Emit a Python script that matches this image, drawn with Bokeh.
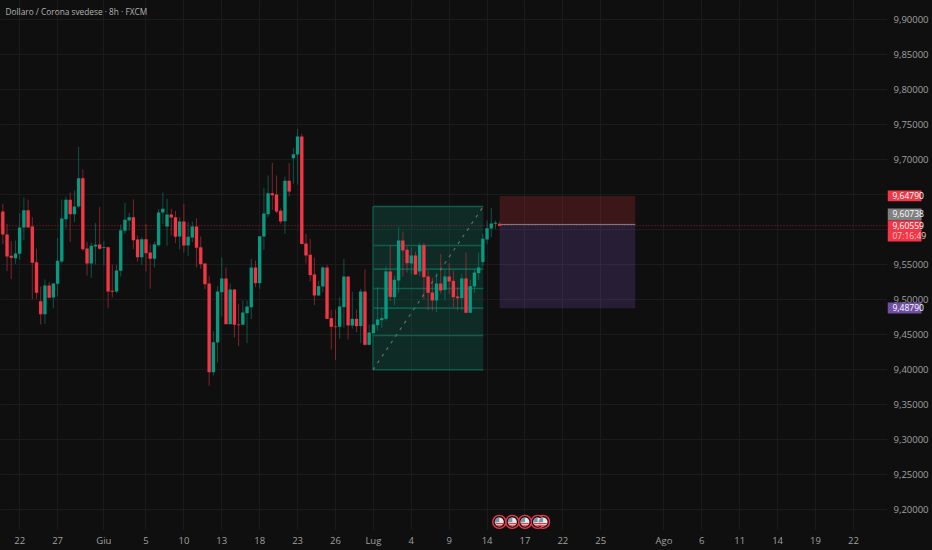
from bokeh.plotting import figure
from bokeh.embed import file_html
from bokeh.resources import INLINE
from bokeh.core.properties import value
from bokeh.models import FixedTicker, Range1d, Label, Span, ColumnDataSource

BG = "#0f0f0f"
GRID = "#1b1b1b"
UP = "#089981"
DOWN = "#f23645"

title_text = "Dollaro / Corona svedese · 8h · FXCM"

# is_up: 1 green, 0 red
is_up = [0,0,0,1,1,1,0,0,0,0,1,0,1,1,1,1,0,1,1,0,0,1,1,0,1,0,0,1,1,1,1,0,0,1,0,0,1,1,1,1,
         0,0,1,0,1,1,0,0,0,0,1,1,1,0,1,0,0,1,1,1,0,1,1,1,0,0,0,1,0,1,1,0,0,0,0,1,1,0,0,0,
         1,1,0,1,0,1,0,1,1,1,1,1,0,1,1,0,0,1,0,1,0,0,0,1,0,1,0,0,0,1,0,1,1,1,1,1,1,1,0]

body_top = [9.6259,9.5930,9.5626,9.5659,9.6030,9.6278,9.6278,9.6045,9.5536,9.4979,
            9.5203,9.5203,9.5231,9.5555,9.6159,9.6425,9.6425,9.6330,9.6734,9.6734,
            9.5731,9.5769,9.5783,9.5788,9.5750,9.5750,9.5127,9.5417,9.5992,9.6140,
            9.6178,9.6178,9.5859,9.5864,9.5864,9.5674,9.5788,9.6244,9.6297,9.6216,
            9.6216,9.6178,9.6116,9.6116,9.5897,9.6045,9.6045,9.5750,9.5517,9.5231,
            9.4394,9.5117,9.5303,9.5303,9.5146,9.5146,9.4646,9.4818,9.4903,9.5460,
            9.5460,9.5907,9.6230,9.6520,9.6520,9.6501,9.6268,9.6696,9.6696,9.7077,
            9.7329,9.7329,9.5802,9.5640,9.5360,9.5193,9.5460,9.5460,9.4737,9.4618,
            9.4903,9.5331,9.5331,9.4727,9.4727,9.5117,9.5117,9.4532,9.4646,9.4718,
            9.4737,9.5403,9.5403,9.5284,9.5845,9.5845,9.5712,9.5631,9.5631,9.5778,
            9.5778,9.5331,9.5103,9.5231,9.5231,9.5331,9.5331,9.5269,9.5046,9.5303,
            9.5303,9.5193,9.5388,9.5460,9.5869,9.6021,9.6087,9.6097,9.6085]

body_bottom = [9.5930,9.5617,9.5598,9.5593,9.5655,9.6030,9.6030,9.5526,9.5098,9.4794,
               9.4794,9.5027,9.5032,9.5227,9.5545,9.6149,9.6221,9.6221,9.6330,9.5721,
               9.5517,9.5517,9.5759,9.5726,9.5736,9.5117,9.5112,9.5117,9.5412,9.5983,
               9.6130,9.5850,9.5607,9.5607,9.5664,9.5583,9.5583,9.5778,9.6244,9.6045,
               9.6173,9.5897,9.5902,9.5773,9.5773,9.5888,9.5740,9.5507,9.5222,9.3966,
               9.3966,9.4390,9.5108,9.4651,9.4651,9.4642,9.4637,9.4642,9.4808,9.4894,
               9.5236,9.5236,9.5902,9.6221,9.6492,9.6259,9.6116,9.6121,9.6544,9.7020,
               9.7072,9.5793,9.5631,9.5350,9.5060,9.5060,9.5189,9.4727,9.4613,9.4608,
               9.4613,9.4894,9.4632,9.4632,9.4623,9.4623,9.4356,9.4356,9.4523,9.4637,
               9.4708,9.4727,9.5041,9.5036,9.5274,9.5702,9.5521,9.5517,9.5360,9.5403,
               9.5322,9.5098,9.4989,9.4989,9.5131,9.5141,9.5260,9.5036,9.5022,9.5022,
               9.4813,9.4813,9.5189,9.5379,9.5536,9.5859,9.6016,9.6083,9.6056]

wick_high = [9.6368,9.6083,9.5835,9.5845,9.6235,9.6458,9.6425,9.6178,9.5726,9.5189,
             9.5288,9.5250,9.5241,9.5878,9.6430,9.6473,9.6530,9.6558,9.7181,9.6858,
             9.5826,9.5816,9.6092,9.6325,9.5835,9.5759,9.5502,9.5498,9.6073,9.6382,
             9.6240,9.6430,9.5916,9.5892,9.6083,9.5788,9.5826,9.6292,9.6530,9.6439,
             9.6297,9.6268,9.6178,9.6368,9.6111,9.6116,9.6159,9.5902,9.5517,9.5341,
             9.4551,9.5193,9.5602,9.5460,9.5231,9.5146,9.4941,9.4989,9.4989,9.5583,
             9.5560,9.5907,9.6596,9.6772,9.6953,9.6772,9.6301,9.6758,9.6948,9.7167,
             9.7438,9.7367,9.5940,9.5869,9.5602,9.5269,9.5483,9.5498,9.4856,9.4856,
             9.5036,9.5583,9.5331,9.5112,9.4860,9.5155,9.5431,9.4646,9.4656,9.5179,
             9.4894,9.5479,9.5774,9.5341,9.6045,9.5973,9.5759,9.5750,9.5688,9.5812,
             9.5812,9.5417,9.5312,9.5379,9.5655,9.5431,9.5521,9.5417,9.5179,9.5369,
             9.5674,9.5288,9.5426,9.5674,9.5940,9.6130,9.6311,9.6130,9.6115]

wick_low = [9.5788,9.5407,9.5293,9.5512,9.5569,9.5845,9.6026,9.5008,9.5017,9.4646,
            9.4656,9.5022,9.4875,9.5046,9.5521,9.6016,9.5821,9.6106,9.6301,9.5693,
            9.5345,9.5312,9.5502,9.5712,9.5488,9.4879,9.5032,9.5093,9.5331,9.5940,
            9.5988,9.5721,9.5545,9.5498,9.5403,9.5155,9.5460,9.5750,9.6083,9.5769,
            9.5916,9.5807,9.5716,9.5674,9.5621,9.5821,9.5460,9.5441,9.5150,9.3771,
            9.3919,9.4104,9.4760,9.4651,9.4651,9.4461,9.4337,9.4646,9.4380,9.4722,
            9.5179,9.5155,9.5712,9.6178,9.6282,9.6235,9.6083,9.5940,9.6473,9.6653,
            9.6644,9.5788,9.5517,9.5265,9.4922,9.5055,9.5103,9.4727,9.4290,9.4142,
            9.4442,9.4599,9.4432,9.4589,9.4537,9.4380,9.4347,9.4347,9.4513,9.4561,
            9.4599,9.4703,9.4979,9.4922,9.5093,9.5331,9.5384,9.5360,9.5355,9.5336,
            9.5003,9.4846,9.4846,9.4822,9.5084,9.4989,9.5084,9.4894,9.4846,9.4846,
            9.4813,9.4813,9.5098,9.5284,9.5474,9.5797,9.5893,9.6011,9.6045]

grid_y = [9.20,9.25,9.30,9.35,9.40,9.45,9.50,9.55,9.60,9.65,9.70,9.75,9.80,9.85,9.90]
y_ticks = [9.20,9.25,9.30,9.35,9.40,9.45,9.50,9.55,9.70,9.75,9.80,9.85,9.90]
x_ticks = [4,13,24,34,43,52,61,70,79,88,97,106,115,124,133,142,157,166,175,184,193,202]
x_labels = ["22","27","Giu","5","10","13","18","23","26","Lug","4","9","14","17","22","25","Ago","6","11","14","19","22"]

fib_levels = [9.6330,9.5774,9.5436,9.5160,9.4880,9.4490,9.4000]
fib_start = 87.9
fib_end = 114.1

pos_start = 118.0
pos_end = 150.2
pos_stop = 9.64790
pos_entry = 9.60738
pos_target = 9.48790
last_price = 9.60559

flag_x = [117.9,121.0,124.0,127.0,128.3]
flag_y = 9.1830

tag_top = [9.6558,9.6301,9.6130,9.4960]
tag_bottom = [9.6405,9.6130,9.5830,9.4803]
tag_colors = [DOWN,"#808080",DOWN,"#6f4fa3"]
tag_y = [9.6481,9.6226,9.6059,9.5916,9.4889]
tag_text = ["9,64790","9,60738","9,60559","07:16:49","9,48790"]
tag_text_colors = ["#ffffff","#ffffff","#ffffff","#f8c8cd","#ffffff"]

p = figure(width=932, height=550, output_backend="svg", toolbar_location=None,
           x_range=Range1d(-0.553, 210.1), y_range=Range1d(9.1707, 9.9269),
           background_fill_color=None, border_fill_color=BG, outline_line_color=None,
           min_border_left=0, min_border_top=0, min_border_right=45, min_border_bottom=20,
           x_axis_location="below", y_axis_location="right")
p.styles = {"position": "fixed", "left": "0", "top": "0", "background-color": BG}
p.outline_line_alpha = 0

p.xaxis.ticker = FixedTicker(ticks=x_ticks)
p.xaxis.major_label_overrides = dict(zip(x_ticks, x_labels))
p.yaxis.ticker = FixedTicker(ticks=y_ticks)
p.yaxis.major_label_overrides = {t: f"{t:.5f}".replace(".", ",") for t in y_ticks}
for ax in (p.xaxis[0], p.yaxis[0]):
    ax.axis_line_color = None
    ax.major_tick_line_color = None
    ax.minor_tick_line_color = None
    ax.major_tick_out = 0
    ax.major_tick_in = 0
    ax.minor_tick_out = 0
    ax.minor_tick_in = 0
    ax.major_label_text_color = "#a0a0a0"
    ax.major_label_text_font = "Open Sans"
    ax.major_label_text_font_size = "9.5px"
p.yaxis[0].major_label_standoff = 6
p.xaxis[0].major_label_standoff = 3

p.xgrid.ticker = FixedTicker(ticks=x_ticks)
p.ygrid.ticker = FixedTicker(ticks=grid_y)
p.xgrid.grid_line_color = GRID
p.ygrid.grid_line_color = GRID

# position tool
p.quad(left=pos_start, right=pos_end, bottom=pos_entry, top=pos_stop, fill_color="#f23645", fill_alpha=0.2, line_color=None)
p.quad(left=pos_start, right=pos_end, bottom=pos_target, top=pos_entry, fill_color="#7e57c2", fill_alpha=0.22, line_color=None)
p.segment(x0=[pos_start], x1=[pos_end], y0=[pos_entry], y1=[pos_entry], line_color="#808080", line_width=1)

# fib tool
p.quad(left=fib_start, right=fib_end, bottom=fib_levels[-1], top=fib_levels[0], fill_color="#089981", fill_alpha=0.2, line_color=None)
p.segment(x0=[fib_start]*len(fib_levels), x1=[fib_end]*len(fib_levels), y0=fib_levels, y1=fib_levels,
          line_color="#0d5c4e", line_width=1.6)
p.segment(x0=[fib_start], x1=[fib_start], y0=[fib_levels[-1]], y1=[fib_levels[0]], line_color="#0d5c4e", line_width=1.2)
p.segment(x0=[fib_start], x1=[fib_end], y0=[fib_levels[-1]], y1=[fib_levels[0]],
          line_color="#5f6f6b", line_width=1.2, line_dash="3 5")

# last price line
p.add_layout(Span(location=last_price, dimension="width", line_color=DOWN, line_alpha=0.55, line_width=1, line_dash="1 2"))

idx = list(range(len(is_up)))
colors = [UP if u else DOWN for u in is_up]
src = ColumnDataSource(dict(x=idx, hi=wick_high, lo=wick_low, top=body_top, bottom=body_bottom, color=colors))
p.segment(x0="x", x1="x", y0="lo", y1="hi", line_color="color", line_alpha=0.5, line_width=1, source=src)
p.vbar(x="x", width=0.8, top="top", bottom="bottom", fill_color="color", line_color=None, source=src)

# event flags
p.scatter(x=flag_x[::-1], y=[flag_y]*len(flag_x), size=13, marker="circle", fill_color=BG, line_color=DOWN, line_width=1.4)
p.scatter(x=flag_x, y=[flag_y]*len(flag_x), size=9, marker="circle", fill_color="#e9e6ea", line_color=None)
p.segment(x0=[v-0.9 for v in flag_x], x1=[v+0.9 for v in flag_x], y0=[flag_y-0.0025]*5, y1=[flag_y-0.0025]*5, line_color=DOWN, line_width=1.2)
p.segment(x0=[v-0.6 for v in flag_x], x1=[v+0.6 for v in flag_x], y0=[flag_y-0.0055]*5, y1=[flag_y-0.0055]*5, line_color=DOWN, line_width=1)
p.wedge(x=flag_x, y=[flag_y]*5, radius=1.05, start_angle=1.57, end_angle=3.3, fill_color="#6d9aa3", line_color=None)

p.add_layout(Label(x=5, y=9.9112, x_units="screen", y_units="data", text=title_text, text_color="#b4b4b4",
                   text_font="Open Sans", text_font_size="8.3px", text_baseline="middle"))

# price tags on the right scale: a transparent strip sharing the price range
tags = figure(width=60, height=530, output_backend="svg", toolbar_location=None,
              x_range=Range1d(0, 60), y_range=p.y_range, x_axis_type=None, y_axis_type=None,
              background_fill_color=None, border_fill_color=None, outline_line_color=None,
              min_border_left=0, min_border_top=0, min_border_right=0, min_border_bottom=0)
tags.grid.visible = False
tags.styles = {"position": "fixed", "left": "887px", "top": "0"}
tags.quad(left=0, right=34, top=tag_top, bottom=tag_bottom, fill_color=tag_colors, line_color=None)
tags.text(x=[5]*5, y=tag_y, text=tag_text, text_color=tag_text_colors, text_font=value("Open Sans"),
          text_font_size="8.5px", text_baseline="middle", text_align="left")

open("out.html", "w").write(file_html([p, tags], INLINE))
